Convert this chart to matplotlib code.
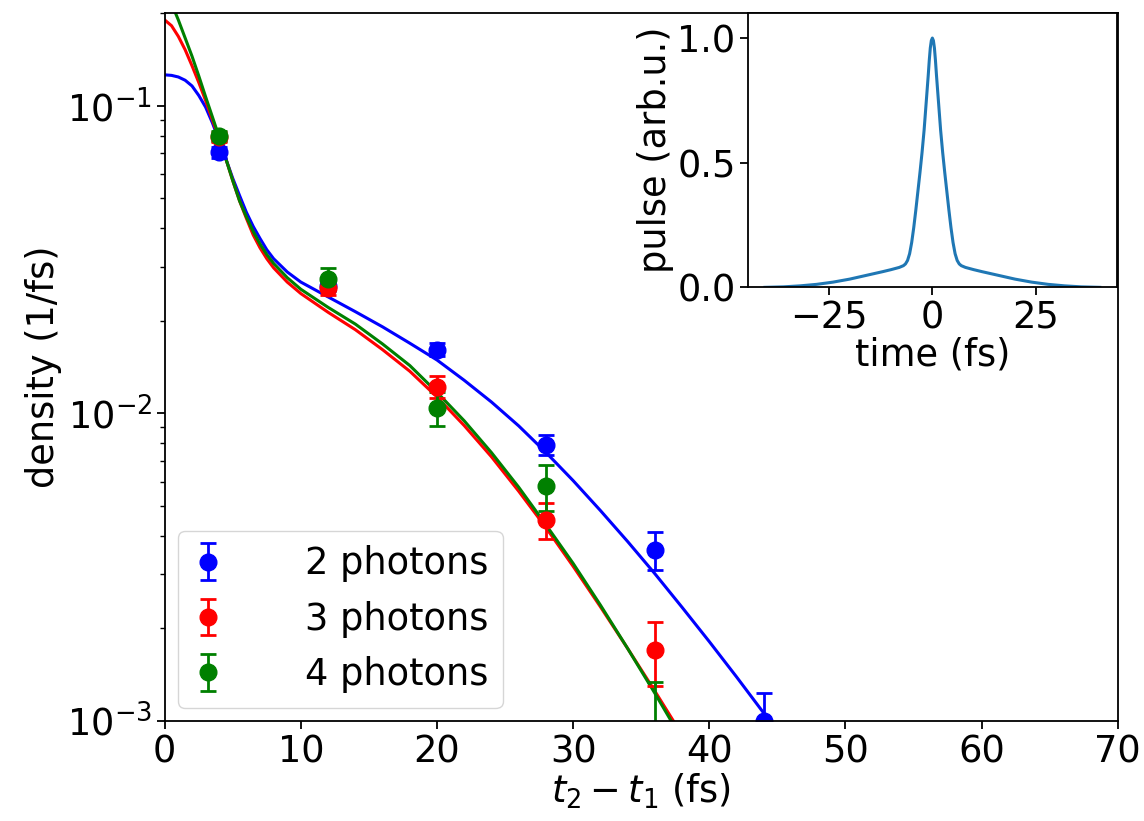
import numpy as np
import matplotlib
matplotlib.use("Agg")
import matplotlib.pyplot as plt

# measured points (t2 - t1 in fs)
t_pts = [4, 12, 20, 28, 36, 44]
dens_2ph = [0.0705, 0.0260, 0.0161, 0.0079, 0.0036, 0.00100]
err_2ph = [0.003, 0.001, 0.0008, 0.0006, 0.0005, 0.00023]

t_pts34 = [4, 12, 20, 28, 36]
dens_3ph = [0.079, 0.0255, 0.0122, 0.0045, 0.0017]
err_3ph = [0.003, 0.0012, 0.001, 0.0006, 0.0004]
dens_4ph = [0.080, 0.0274, 0.0104, 0.0058, 0.00084]
err_4ph = [0.003, 0.0022, 0.0013, 0.0010, 0.0005]

# fitted curves
t_fit = [0, 0.5, 1, 1.5, 2, 2.5, 3, 3.5, 4, 4.5, 5, 5.5, 6, 6.5, 7, 7.5, 8,
         9, 10, 12, 14, 16, 18, 20, 22, 24, 26, 28, 30, 32, 34, 36, 38, 40,
         42, 44]
fit_2ph = [0.126, 0.1255, 0.124, 0.121, 0.116, 0.108, 0.099, 0.088, 0.077,
           0.067, 0.058, 0.051, 0.045, 0.0405, 0.037, 0.034, 0.0318, 0.0288,
           0.0267, 0.0239, 0.0214, 0.0191, 0.0169, 0.0149, 0.0128, 0.01088,
           0.0091, 0.00746, 0.00604, 0.00483, 0.00383, 0.00301, 0.00234,
           0.00181, 0.00139, 0.00106]
t_fit34 = [0, 0.5, 1, 1.5, 2, 2.5, 3, 3.5, 4, 4.5, 5, 5.5, 6, 6.5, 7, 7.5, 8,
           9, 10, 12, 14, 16, 18, 20, 22, 24, 26, 28, 30, 32, 34, 36, 38]
fit_3ph = [0.19, 0.182, 0.168, 0.152, 0.135, 0.119, 0.104, 0.090, 0.078,
           0.067, 0.057, 0.049, 0.043, 0.038, 0.0345, 0.0318, 0.0297, 0.0267,
           0.0245, 0.0213, 0.0187, 0.0161, 0.0137, 0.0113, 0.00912, 0.00722,
           0.00558, 0.00425, 0.00318, 0.00235, 0.00172, 0.00125, 0.00090]
fit_4ph = [0.235, 0.215, 0.19, 0.166, 0.145, 0.125, 0.107, 0.092, 0.079,
           0.067, 0.057, 0.049, 0.0435, 0.039, 0.0355, 0.0328, 0.0307, 0.0276,
           0.0253, 0.0221, 0.0195, 0.0168, 0.0143, 0.0117, 0.00945, 0.00745,
           0.00575, 0.00434, 0.00325, 0.00238, 0.00172, 0.00123, 0.00087]

# inset pulse shape
t_pulse = [-40.5, -36, -32, -28, -24, -20, -16, -12, -10, -8, -7, -6.5, -6,
           -5.5, -5, -4.5, -4, -3.5, -3, -2.5, -2, -1.5, -1, -0.75, -0.5,
           -0.25, 0, 0.25, 0.5, 0.75, 1, 1.5, 2, 2.5, 3, 3.5, 4, 4.5, 5, 5.5,
           6, 6.5, 7, 8, 10, 12, 16, 20, 24, 28, 32, 36, 40.5]
pulse = [0.0, 0.002, 0.006, 0.012, 0.021, 0.033, 0.048, 0.063, 0.071, 0.080,
         0.087, 0.094, 0.108, 0.135, 0.18, 0.24, 0.31, 0.385, 0.46, 0.54,
         0.63, 0.74, 0.85, 0.91, 0.96, 0.99, 1.0, 0.99, 0.96, 0.91, 0.85,
         0.74, 0.63, 0.54, 0.46, 0.385, 0.31, 0.24, 0.18, 0.135, 0.108, 0.094,
         0.087, 0.080, 0.071, 0.063, 0.048, 0.033, 0.021, 0.012, 0.006, 0.002,
         0.0]

plt.rcParams['font.size'] = 26.5
plt.rcParams['axes.linewidth'] = 1.3
for ax_name in ['xtick', 'ytick']:
    plt.rcParams[ax_name + '.major.size'] = 5.5
    plt.rcParams[ax_name + '.major.width'] = 1.3
    plt.rcParams[ax_name + '.minor.size'] = 3.5
    plt.rcParams[ax_name + '.minor.width'] = 1.0

fig = plt.figure(figsize=(11.44, 8.21), dpi=100)
ax = fig.add_axes([0.144, 0.122, 0.833, 0.862])

ax.semilogy(t_fit, fit_2ph, color='blue', lw=2.2)
ax.semilogy(t_fit34, fit_3ph, color='red', lw=2.2)
ax.semilogy(t_fit34, fit_4ph, color='green', lw=2.2)

ekw = dict(fmt='o', ms=12, capsize=6, elinewidth=2, capthick=2)
ax.errorbar(t_pts, dens_2ph, yerr=err_2ph, color='blue', label='2 photons', **ekw)
ax.errorbar(t_pts34, dens_3ph, yerr=err_3ph, color='red', label='3 photons', **ekw)
ax.errorbar(t_pts34, dens_4ph, yerr=err_4ph, color='green', label='4 photons', **ekw)

ax.set_xlim(0, 70)
ax.set_ylim(1e-3, 0.2)
ax.set_xlabel('$t_2 - t_1$ (fs)', labelpad=1)
ax.set_ylabel('density (1/fs)', labelpad=4)
ax.legend(loc='lower left', handlelength=0.85, handletextpad=2.2,
          borderpad=0.4, labelspacing=0.5, borderaxespad=0.35)

# inset
axin = fig.add_axes([0.654, 0.650, 0.322, 0.334])
axin.plot(t_pulse, pulse, color='#1f77b4', lw=2.2)
axin.set_ylim(0, 1.1)
axin.set_xticks([-25, 0, 25])
axin.set_yticks([0.0, 0.5, 1.0])
axin.set_xlabel('time (fs)', labelpad=0)
axin.set_ylabel('pulse (arb.u.)', labelpad=2)

fig.savefig('out.png', dpi=100)
